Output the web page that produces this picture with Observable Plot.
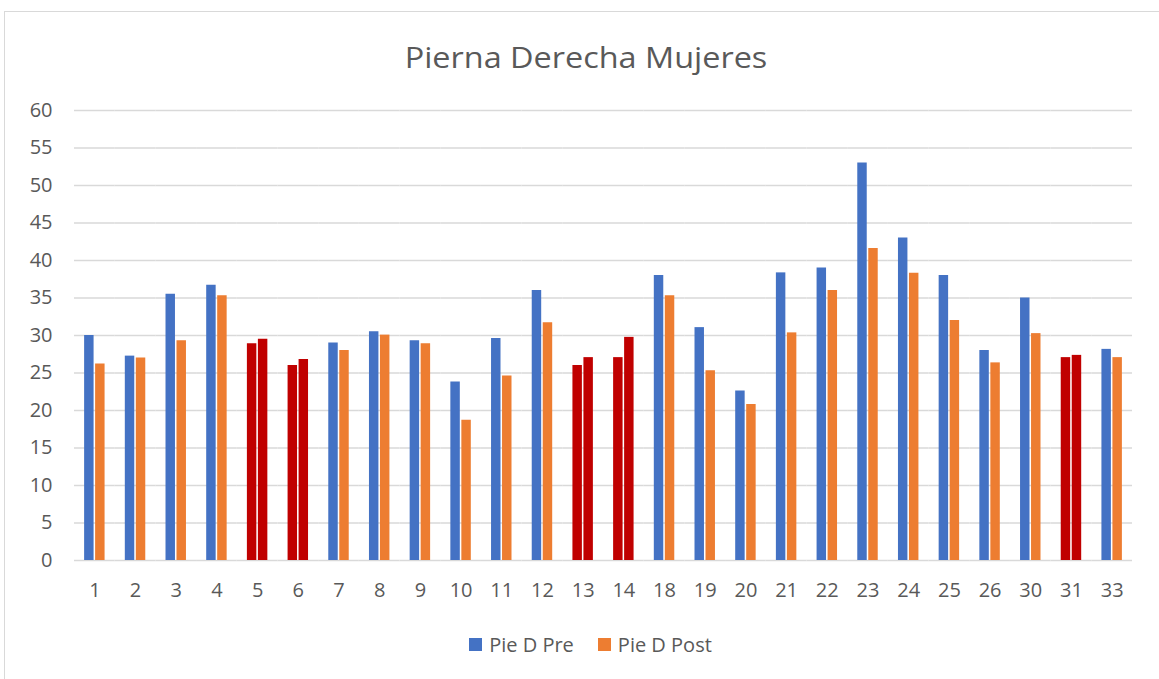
<!DOCTYPE html>
<html>
<head>
<meta charset="utf-8">
<script src="https://cdn.jsdelivr.net/npm/d3@7"></script>
<script src="https://cdn.jsdelivr.net/npm/@observablehq/plot@0.6"></script>
<style>
  html, body { margin: 0; padding: 0; background: #fff; }
  body { width: 1159px; height: 679px; position: relative; overflow: hidden; font-family: "Open Sans", sans-serif; color: #595959; }
  #frame { position: absolute; left: 4px; top: 11px; width: 1170px; height: 690px; border: 1px solid #d9d9d9; box-sizing: border-box; }
  #title { position: absolute; left: 0; top: 36px; width: 1172px; text-align: center; font-size: 30px; color: #595959; transform: scaleX(1.08); transform-origin: 586px 0; }
  #chart { position: absolute; left: 0; top: 80px; }
  #legend { position: absolute; left: 0; top: 631px; width: 1181px; display: flex; justify-content: center; gap: 24px; font-size: 20px; color: #595959; }
  .item { display: flex; align-items: center; gap: 7px; }
  .sw { width: 13px; height: 13px; display: inline-block; }
</style>
</head>
<body>
<div id="frame"></div>
<div id="title">Pierna Derecha Mujeres</div>
<div id="chart"></div>
<div id="legend"></div>
<script>
const categories = ["1","2","3","4","5","6","7","8","9","10","11","12","13","14","18","19","20","21","22","23","24","25","26","30","31","33"];
const preValues  = [30.0, 27.25, 35.5, 36.7, 28.9, 26.0, 29.0, 30.5, 29.3, 23.8, 29.6, 36.0, 26.0, 27.05, 38.0, 31.05, 22.6, 38.35, 39.0, 53.0, 43.0, 38.0, 28.0, 35.0, 27.05, 28.15];
const postValues = [26.2, 27.0, 29.3, 35.3, 29.5, 26.8, 28.0, 30.05, 28.9, 18.7, 24.6, 31.7, 27.05, 29.75, 35.3, 25.3, 20.8, 30.35, 36.0, 41.6, 38.3, 32.0, 26.35, 30.25, 27.35, 27.05];
const seriesNames = ["Pie D Pre", "Pie D Post"];
const seriesColors = ["#4472C4", "#ED7D31"];
const increaseColor = "#C00000";
const yTicks = [0, 5, 10, 15, 20, 25, 30, 35, 40, 45, 50, 55, 60];

const data = categories.flatMap((c, i) => {
  const up = postValues[i] > preValues[i];
  return [
    {cat: c, series: seriesNames[0], value: preValues[i], fill: up ? increaseColor : seriesColors[0]},
    {cat: c, series: seriesNames[1], value: postValues[i], fill: up ? increaseColor : seriesColors[1]}
  ];
});

const chart = Plot.plot({
  width: 1159,
  height: 535,
  marginLeft: 74,
  marginRight: 27,
  marginTop: 30,
  marginBottom: 55,
  style: {fontSize: "20px", fontFamily: "'Open Sans', sans-serif", color: "#595959", background: "transparent"},
  fx: {domain: categories, padding: 0, round: false, axis: "bottom", tickSize: 0, tickPadding: 22, label: null},
  x: {domain: seriesNames, axis: null, round: false, paddingInner: 0.14, paddingOuter: 0.92},
  y: {domain: [0, 60], ticks: yTicks, tickSize: 0, tickPadding: 22, label: null},
  color: {type: "identity"},
  marks: [
    Plot.ruleY(yTicks, {stroke: "#d9d9d9", strokeWidth: 1.3}),
    Plot.barY(data, {fx: "cat", x: "series", y: "value", fill: "fill"})
  ]
});
document.getElementById("chart").appendChild(chart);

const legend = document.getElementById("legend");
seriesNames.forEach((name, i) => {
  const item = document.createElement("div");
  item.className = "item";
  const sw = document.createElement("span");
  sw.className = "sw";
  sw.style.background = seriesColors[i];
  const label = document.createElement("span");
  label.textContent = name;
  item.appendChild(sw);
  item.appendChild(label);
  legend.appendChild(item);
});
</script>
</body>
</html>
